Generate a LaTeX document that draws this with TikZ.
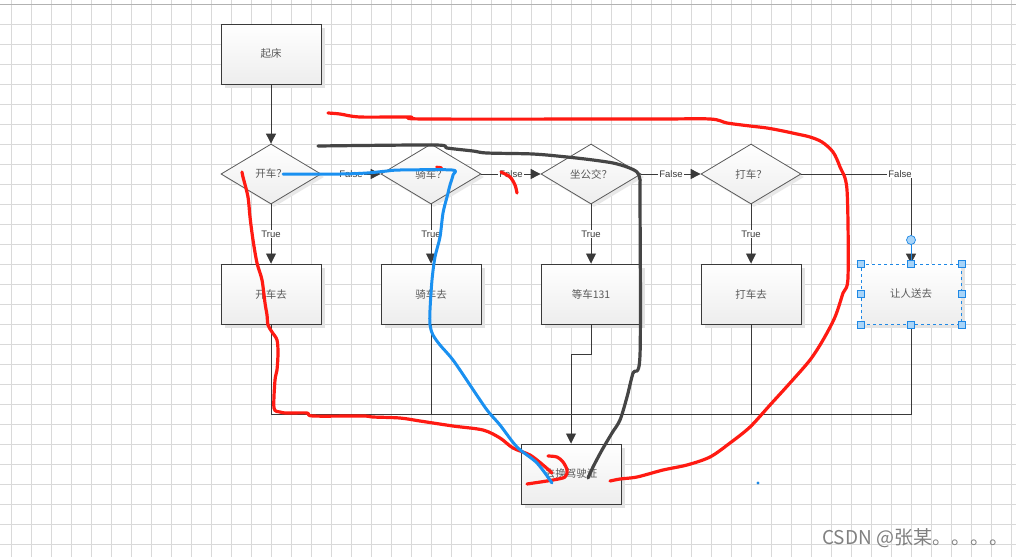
\documentclass[tikz,border=0pt]{standalone}
\usepackage{fontspec}
\setsansfont{Liberation Sans}
\newfontfamily\cjk{Noto Sans CJK SC}
\usetikzlibrary{shapes.geometric,arrows.meta,shadows}
\definecolor{gridc}{HTML}{D9D9D9}
\definecolor{linec}{HTML}{3A3A3A}
\definecolor{txtc}{HTML}{5A5A5A}
\definecolor{penred}{HTML}{FF1A12}
\definecolor{penblue}{HTML}{1A90F0}
\definecolor{pendark}{HTML}{454545}
\definecolor{selblue}{HTML}{1E88E5}
\definecolor{handlefill}{HTML}{A8D4F8}
\begin{document}
\begin{tikzpicture}[x=1pt,y=-1pt,
  shapebox/.style={rectangle, draw=linec, line width=1pt, top color=white, bottom color=black!7,
     minimum width=100pt, minimum height=60pt, inner sep=0pt, text=txtc,
     font=\cjk\fontsize{10.5}{12}\selectfont,
     drop shadow={fill=black!11, shadow xshift=4pt, shadow yshift=-4pt, opacity=1}},
  decide/.style={diamond, aspect=1.667, draw=black!65, line width=0.8pt, top color=white, bottom color=black!7,
     minimum width=100pt, minimum height=60pt, inner sep=0pt, text=txtc,
     font=\cjk\fontsize{10.5}{12}\selectfont,
     drop shadow={fill=black!9, shadow xshift=3pt, shadow yshift=-3pt, opacity=1}},
  conn/.style={draw=linec, line width=0.9pt, -{Triangle[width=10pt,length=10pt]}},
  plain/.style={draw=linec, line width=0.9pt},
  lbl/.style={fill=white, inner sep=1pt, text=linec, font=\sffamily\fontsize{9.5}{11}\selectfont},
  pen/.style={line width=3.2pt, line cap=round, line join=round},
  handle/.style={draw=selblue, fill=handlefill, line width=0.7pt, minimum size=7pt, inner sep=0pt, rectangle}
]
\useasboundingbox (0,0) rectangle (1016,557);
\fill[white] (0,0) rectangle (1016,557);
% grid
\foreach \i in {0,...,50} \draw[gridc, line width=0.8pt] (11.5+20*\i,0) -- (11.5+20*\i,557);
\foreach \j in {1,...,27} \draw[gridc, line width=0.8pt] (0,4+20*\j) -- (1016,4+20*\j);
\draw[black!30, line width=1pt] (0,4) -- (1016,4);

% nodes
\node[shapebox] (s) at (271,54) {起床};
\node[decide] (d1) at (271,174) {开车？};
\node[decide] (d2) at (431,174) {骑车？};
\node[decide] (d3) at (591,174) {坐公交？};
\node[decide] (d4) at (751,174) {打车？};
\node[shapebox] (b1) at (271,294) {开车去};
\node[shapebox] (b2) at (431,294) {骑车去};
\node[shapebox] (b3) at (591,294) {等车131};
\node[shapebox] (b4) at (751,294) {打车去};
\node[shapebox, draw=selblue, dashed, line width=0.8pt] (b5) at (911,294) {让人送去};
\node[shapebox] (f) at (571,474) {去换驾驶证};

% connectors
\draw[conn] (s) -- (d1);
\draw[conn] (d1) -- node[lbl]{True} (b1);
\draw[conn] (d2) -- node[lbl]{True} (b2);
\draw[conn] (d3) -- node[lbl]{True} (b3);
\draw[conn] (d4) -- node[lbl]{True} (b4);
\draw[conn] (d1) -- node[lbl]{False} (d2);
\draw[conn] (d2) -- node[lbl]{False} (d3);
\draw[conn] (d3) -- node[lbl]{False} (d4);
\draw[conn] (d4.east) -| node[lbl, pos=0.45]{False} (b5.north);

\coordinate (m1) at (271,414);
\coordinate (m5) at (911,414);
\draw[plain] (b1.south) -- (m1) -- (m5) -- (b5.south);
\draw[plain] (b2.south) -- (b2.south |- m1);
\draw[plain] (b4.south) -- (b4.south |- m1);
\draw[conn] (b3.south) -- ++(0,30) -| (f.north);

% selection handles
\draw[selblue, line width=0.7pt] (911,240) -- (b5.north);
\node[circle, draw=selblue, fill=handlefill, line width=0.7pt, minimum size=9pt, inner sep=0pt] (hc) at (911,240) {};
\foreach \a in {north west,north,north east,west,east,south west,south,south east}
  \node[handle] at (b5.\a) {};

% hand-drawn strokes
\draw[pen, pendark] plot[smooth, tension=0.5] coordinates {(318,146) (435,145) (447,148) (473,151) (487,153) (533,154) (567,157) (593,160) (613,163) (627,167) (637,172) (640,180) (640,195) (640,355) (633,373) (627,397) (620,420) (612,433) (602,450) (593,467) (588,478)};
\draw[pen, penred] plot[smooth, tension=0.5] coordinates {(328,113) (340,114) (360,117) (410,117) (425,119) (650,119) (710,119) (727,123) (750,126) (767,128) (783,131) (797,134) (810,137) (822,142) (833,152) (840,167) (847,190) (848,277) (843,293) (835,317) (823,340) (810,360) (790,383) (770,405) (750,427) (730,443) (710,457) (687,465) (663,470) (637,477) (620,479) (610,481)};
\draw[pen, penred] plot[smooth, tension=0.5] coordinates {(242,172) (243,177) (248,197) (250,217) (253,240) (257,263) (262,280) (265,303) (267,315) (268,325) (272,332) (277,340) (278,353) (277,370) (275,380) (274,408) (280,412) (287,413) (307,413) (313,416) (363,416) (373,417) (400,418) (420,421) (453,426) (483,430) (500,438) (513,448) (530,455) (543,465) (552,473)};
\draw[pen, penred] plot[smooth, tension=0.5] coordinates {(548,456) (557,457) (563,462) (567,470) (565,477) (553,480) (527,484)};
\draw[pen, penred] plot[smooth, tension=0.5] coordinates {(501,172) (510,177) (515,185) (517,193)};
\draw[pen, penred, line width=2.6pt] plot[smooth, tension=0.5] coordinates {(436.5,167) (441,167.5) (442.5,170)};
\draw[pen, penblue, line width=3pt] plot[smooth, tension=0.5] coordinates {(283,174) (340,174) (367,173) (387,171) (400,170) (452,170) (453,175) (450,185) (447,197) (443,213) (440,237) (435,257) (432,280) (430,310) (430,325) (433,335) (440,345) (453,360) (470,385) (487,410) (500,425) (517,447) (537,463) (552,483)};
\fill[selblue] (758,483) circle (1.6pt);

% watermark
\node[anchor=west, inner sep=0pt, text=black!50, font=\cjk\fontsize{19}{21}\selectfont] (wm) at (822,538) {CSDN @张某。。。。};
\end{tikzpicture}
\end{document}
